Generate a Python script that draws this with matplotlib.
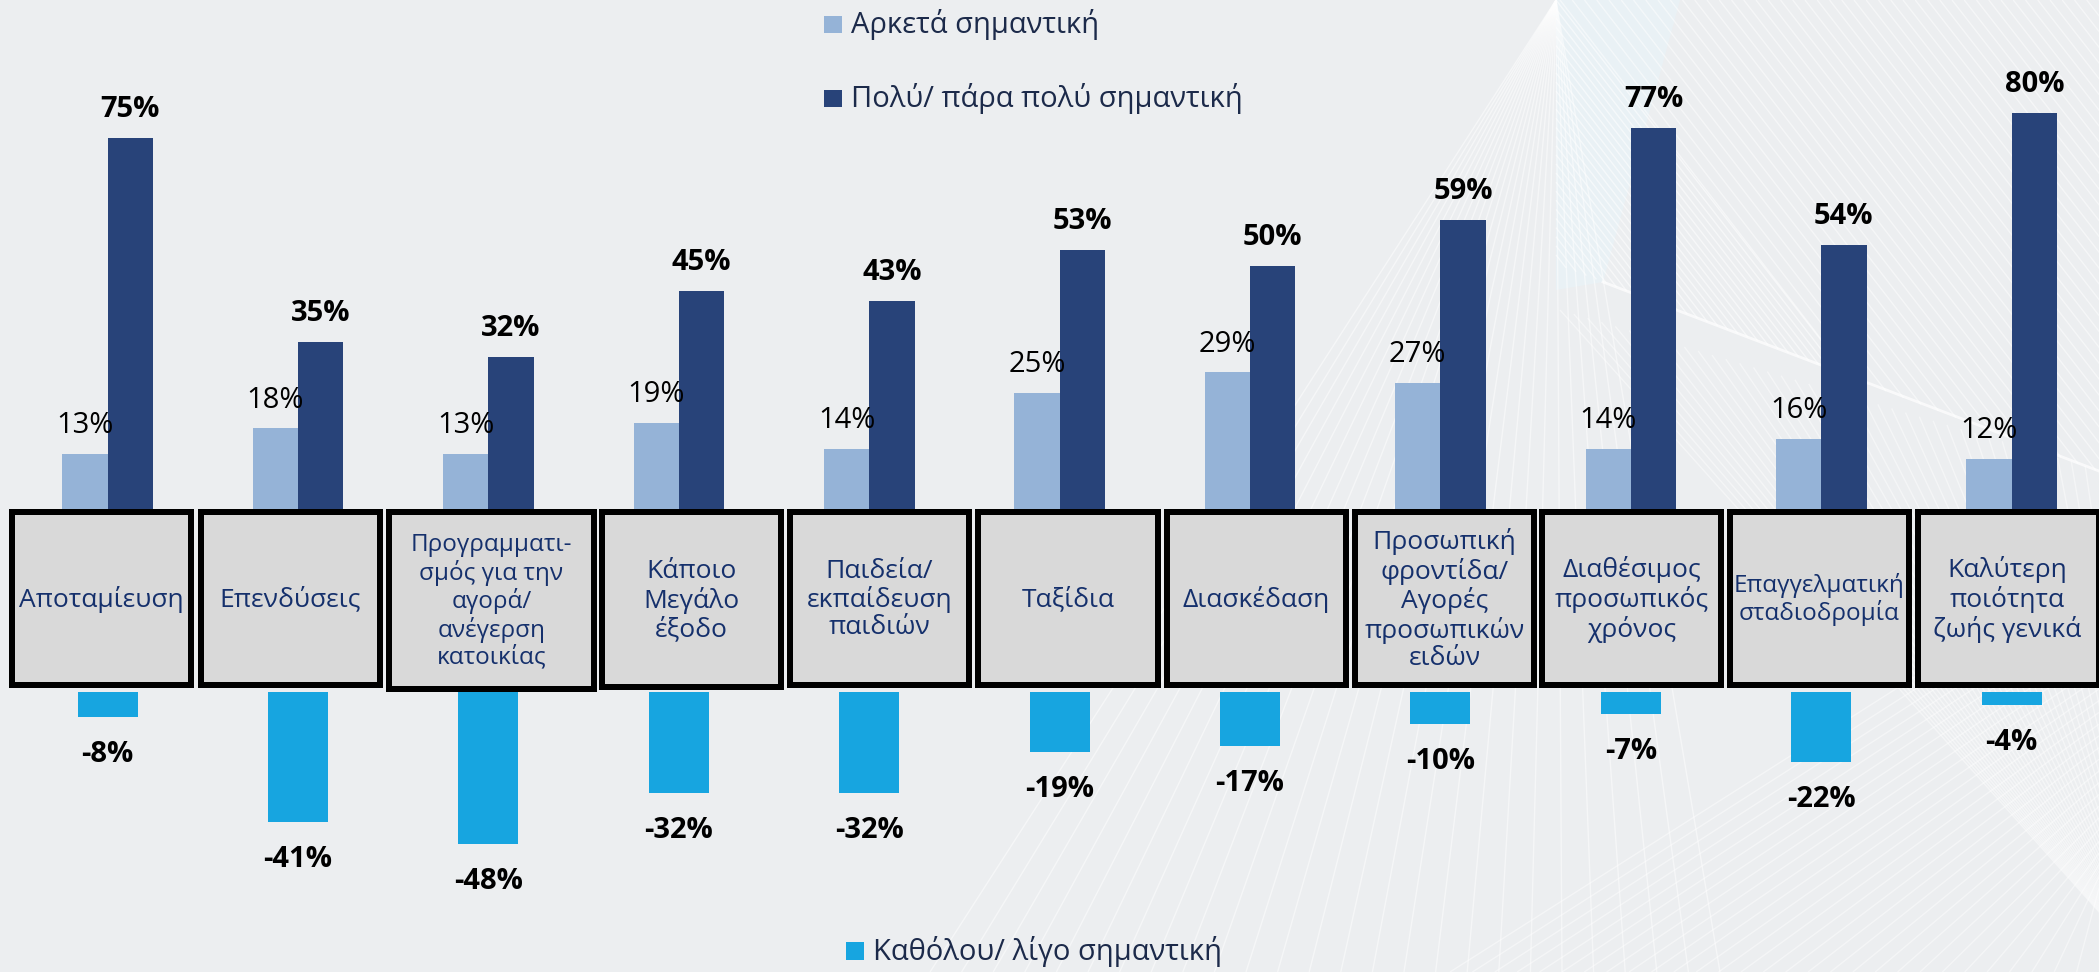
import matplotlib
matplotlib.use("Agg")
import matplotlib.pyplot as plt
import numpy as np
from matplotlib.patches import Rectangle

plt.rcParams['font.family'] = ['Open Sans', 'DejaVu Sans']

# ---- data ----
categories = [
    "Αποταμίευση",
    "Επενδύσεις",
    "Προγραμματι-\nσμός για την\nαγορά/\nανέγερση\nκατοικίας",
    "Κάποιο\nΜεγάλο\nέξοδο",
    "Παιδεία/\nεκπαίδευση\nπαιδιών",
    "Ταξίδια",
    "Διασκέδαση",
    "Προσωπική\nφροντίδα/\nΑγορές\nπροσωπικών\nειδών",
    "Διαθέσιμος\nπροσωπικός\nχρόνος",
    "Επαγγελματική\nσταδιοδρομία",
    "Καλύτερη\nποιότητα\nζωής γενικά",
]
fairly_important = [13, 18, 13, 19, 14, 25, 29, 27, 14, 16, 12]
very_important = [75, 35, 32, 45, 43, 53, 50, 59, 77, 54, 80]
little_important = [-8, -41, -48, -32, -32, -19, -17, -10, -7, -22, -4]
series_names = ["Αρκετά σημαντική", "Πολύ/ πάρα πολύ σημαντική", "Καθόλου/ λίγο σημαντική"]

# ---- styling ----
BG = "#ECEEF0"
C_FAIR = "#95B3D7"
C_VERY = "#284379"
C_LITTLE = "#17A5E0"
C_BOX = "#D9D9D9"
C_CAT = "#15306C"
C_LEG = "#1C2A4A"

W, H = 2099, 972
fig = plt.figure(figsize=(W / 100, H / 100), dpi=100)
fig.patch.set_facecolor(BG)

# background decoration in pixel space
bg = fig.add_axes([0, 0, 1, 1])
bg.set_xlim(0, W)
bg.set_ylim(H, 0)
bg.axis("off")
bg.set_zorder(0)


def strings(p0, p1, q0, q1, n, color="white", alpha=0.55, lw=1.0):
    for t in np.linspace(0, 1, n):
        xa = p0[0] + t * (p1[0] - p0[0])
        ya = p0[1] + t * (p1[1] - p0[1])
        xb = q0[0] + t * (q1[0] - q0[0])
        yb = q0[1] + t * (q1[1] - q0[1])
        bg.plot([xa, xb], [ya, yb], color=color, alpha=alpha, lw=lw,
                solid_capstyle="butt")


# soft light wedge behind the hatching
bg.fill([1556, 1680, 1603, 1556], [0, 0, 282, 290], color="#E8F4F9", alpha=0.6, lw=0)
# fan from the top apex down to the bottom edge
strings((1556, 0), (1556, 0), (930, 972), (1720, 972), 26, alpha=0.5)
# hatching, top right
strings((1556, 0), (1556, 264), (1849, 376), (1556, 264), 30, alpha=0.55)
strings((1560, 0), (2099, 0), (1851, 378), (2620, 668), 45, alpha=0.5)
# lower-right fans
strings((2160, 980), (2160, 980), (1560, 310), (2099, 470), 40, alpha=0.45)
strings((1450, 972), (2099, 972), (2099, 560), (2099, 900), 30, alpha=0.45)
# bright band
bg.plot([1603, 2099], [282, 471], color="white", alpha=0.7, lw=2)

# ---- axes for the bars ----
spacing = 190.4
x0px = 107.6
xlim = (-x0px / spacing, (W - x0px) / spacing)
x = np.arange(len(categories))

top_px = 520.0        # pixel row of the zero line of the upper chart
top_scale = 5.09      # pixels per percent (upper)
bot_px = 692.0        # pixel row of the zero line of the lower chart
bot_scale = 3.17      # pixels per percent (lower)

ax_top = fig.add_axes([0, 1 - top_px / H, 1, top_px / H])
ax_top.set_xlim(*xlim)
ax_top.set_ylim(0, top_px / top_scale)
ax_top.axis("off")
ax_top.set_zorder(1)

ax_bot = fig.add_axes([0, 0, 1, (H - bot_px) / H])
ax_bot.set_xlim(*xlim)
ax_bot.set_ylim(-(H - bot_px) / bot_scale, 0)
ax_bot.axis("off")
ax_bot.set_zorder(1)

bw = 45.3 / spacing
ax_top.bar(x - bw / 2, fairly_important, width=bw, color=C_FAIR, zorder=2)
ax_top.bar(x + bw / 2, very_important, width=bw, color=C_VERY, zorder=2)
ax_bot.bar(x, little_important, width=60 / spacing, color=C_LITTLE, zorder=2)

for xi, v in zip(x, fairly_important):
    ax_top.annotate(f"{v}%", xy=(xi - bw / 2, v), xytext=(0, 15),
                    textcoords="offset points", ha="center", va="baseline",
                    fontsize=21, color="black", annotation_clip=False)
for xi, v in zip(x, very_important):
    ax_top.annotate(f"{v}%", xy=(xi + bw / 2, v), xytext=(0, 15),
                    textcoords="offset points", ha="center", va="baseline",
                    fontsize=21, fontweight="bold", color="black",
                    annotation_clip=False)
for xi, v in zip(x, little_important):
    ax_bot.annotate(f"{v}%", xy=(xi, v), xytext=(0, -32.4),
                    textcoords="offset points", ha="center", va="baseline",
                    fontsize=21, fontweight="bold", color="black",
                    annotation_clip=False)

# ---- category boxes (laid out in pixel space, outer edges) ----
box_edges_px = [(9, 194), (198, 383), (386, 597), (599, 784), (787, 972),
                (975, 1161), (1164, 1349), (1352, 1537), (1539, 1724),
                (1727, 1912), (1915, 2102)]
box_bottom_px = {2: 692, 3: 690}
box_font = {2: 17.5, 9: 17.5}
border_px = 6.0

for i, (label, (left, right)) in enumerate(zip(categories, box_edges_px)):
    top = 509 + border_px / 2
    bottom = box_bottom_px.get(i, 688) - border_px / 2
    l = left + border_px / 2
    r = right - border_px / 2
    bg.add_patch(Rectangle((l, top), r - l, bottom - top, facecolor=C_BOX,
                           edgecolor="black", lw=border_px * 0.72,
                           joinstyle="miter", zorder=3))
for i, (label, (left, right)) in enumerate(zip(categories, box_edges_px)):
    cx = (left + min(right, 2099)) / 2 if i < 10 else (left + 2099) / 2
    cy = (509 + box_bottom_px.get(i, 688)) / 2 + 1
    fig.text(cx / W, 1 - cy / H, label, ha="center", va="center",
             fontsize=box_font.get(i, 19), color=C_CAT, linespacing=1.12,
             zorder=4)

# boxes must sit over the bar axes
ax_boxes = fig.add_axes([0, 0, 1, 1])
ax_boxes.set_xlim(0, W)
ax_boxes.set_ylim(H, 0)
ax_boxes.axis("off")
ax_boxes.set_zorder(2)
for p in list(bg.patches):
    if p.get_zorder() == 3:
        p.remove()
        ax_boxes.add_patch(p)

# ---- legend ----
legend_items = [
    (series_names[0], C_FAIR, 824, 16, 33),
    (series_names[1], C_VERY, 824, 90, 107),
    (series_names[2], C_LITTLE, 846, 942, 960),
]
for name, col, lx, ly, base in legend_items:
    bg.add_patch(Rectangle((lx, ly), 18, 17.5, facecolor=col, lw=0, zorder=5))
    bg.text(lx + 27, base, name, ha="left", va="baseline", fontsize=21,
            color=C_LEG, zorder=5)

fig.savefig("out.png", dpi=100, facecolor=BG)
